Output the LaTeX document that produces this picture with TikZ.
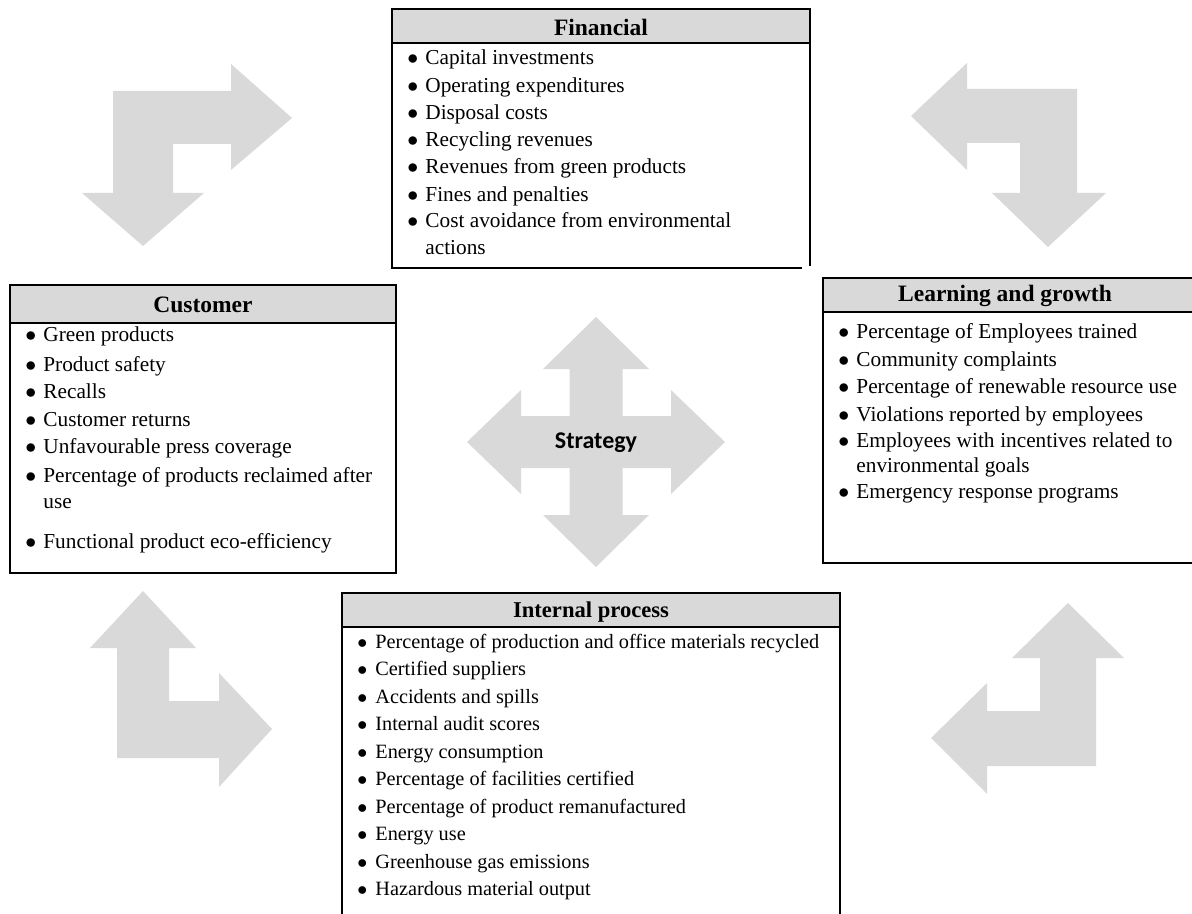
\documentclass[tikz,border=0pt]{standalone}
\usepackage{fontspec}
\setmainfont{Liberation Serif}
\newfontfamily\calib{Carlito}
\definecolor{shapegray}{HTML}{D9D9D9}
\newcommand\itb{\makebox[9pt][l]{$\bullet$}}
\begin{document}
\begin{tikzpicture}[x=0.5pt,y=-0.5pt,
  bord/.style={line width=1.2pt, line cap=rect},
  hdr/.style={fill=shapegray, draw=none},
  ttl/.style={inner sep=0pt, font=\fontsize{11.75pt}{14pt}\selectfont\bfseries},
  ttls/.style={inner sep=0pt, font=\fontsize{11.3pt}{14pt}\selectfont\bfseries},
  itm/.style={anchor=west, inner sep=0pt, font=\fontsize{10.65pt}{12pt}\selectfont, text height=0.7em, text depth=0.2em},
  itms/.style={itm, font=\fontsize{10.15pt}{12pt}\selectfont},
  bent/.style={fill=shapegray, draw=none}
]
\useasboundingbox (0,0) rectangle (1192,914);

% ---- bent arrows ----
\fill[bent] (113,91) -- (231,91) -- (231,64) -- (292,118) -- (231,170) -- (231,144) -- (173,144) -- (173,193) -- (204,193) -- (143,246) -- (82,193) -- (113,193) -- cycle;
\fill[bent] (911,116) -- (967,63) -- (967,89) -- (1077,89) -- (1077,193) -- (1106,193) -- (1048,247) -- (992,193) -- (1020,193) -- (1020,143) -- (967,143) -- (967,170) -- cycle;
\fill[bent] (143,591) -- (196,648) -- (169,648) -- (169,701) -- (219,701) -- (219,673) -- (272,729) -- (219,787) -- (219,758) -- (117,758) -- (117,648) -- (90,648) -- cycle;
\fill[bent] (1068,603) -- (1124,658) -- (1096,658) -- (1096,766) -- (987,766) -- (987,794) -- (931,738) -- (987,683) -- (987,711) -- (1040,711) -- (1040,658) -- (1012,658) -- cycle;

% ---- strategy four-way arrow ----
\fill[bent] (596,317) -- (649,369) -- (622.5,369) -- (622.5,416) -- (671,416) -- (671,390) -- (725,442) -- (671,494) -- (671,468) -- (622.5,468) -- (622.5,515) -- (649,515) -- (596,567) -- (543,515) -- (569.5,515) -- (569.5,468) -- (521,468) -- (521,494) -- (467,442) -- (521,390) -- (521,416) -- (569.5,416) -- (569.5,369) -- (543,369) -- cycle;
\node[inner sep=0pt, font=\calib\bfseries\fontsize{12pt}{14pt}\selectfont] (strategy) at (596,443) {Strategy};

% ---- Financial ----
\fill[hdr] (392,9) rectangle (810,43);
\draw[bord] (392,268) -- (392,9) -- (810,9) -- (810,265);
\draw[bord] (392,43) -- (810,43);
\draw[bord] (392,268) -- (801,268);
\node[ttl] (fin) at (601,27) {Financial};
\node[itm] (f1) at (407,60) {\itb Capital investments};
\node[itm] (f2) at (407,88) {\itb Operating expenditures};
\node[itm] (f3) at (407,115) {\itb Disposal costs};
\node[itm] (f4) at (407,142) {\itb Recycling revenues};
\node[itm] (f5) at (407,169) {\itb Revenues from green products};
\node[itm] (f6) at (407,197) {\itb Fines and penalties};
\node[itm] (f7) at (407,223) {\itb Cost avoidance from environmental};
\node[itm] (f8) at (425,250) {actions};

% ---- Customer ----
\fill[hdr] (10,285) rectangle (396,323);
\draw[bord] (10,285) rectangle (396,573);
\draw[bord] (10,323) -- (396,323);
\node[ttl] (cus) at (203,305) {Customer};
\node[itm] (c1) at (25,337) {\itb Green products};
\node[itm] (c2) at (25,366) {\itb Product safety};
\node[itm] (c3) at (25,393) {\itb Recalls};
\node[itm] (c4) at (25,421) {\itb Customer returns};
\node[itm] (c5) at (25,448) {\itb Unfavourable press coverage};
\node[itm] (c6) at (25,477) {\itb Percentage of products reclaimed after};
\node[itm] (c7) at (43,503) {use};
\node[itm] (c8) at (25,543) {\itb Functional product eco-efficiency};

% ---- Learning and growth ----
\fill[hdr] (823,278) rectangle (1192,312);
\draw[bord] (1192,278) -- (823,278) -- (823,563) -- (1192,563);
\draw[bord] (823,312) -- (1192,312);
\node[ttl] (lrn) at (1005,296) {Learning and growth};
\node[itm] (l1) at (838,333) {\itb Percentage of Employees trained};
\node[itm] (l2) at (838,361) {\itb Community complaints};
\node[itm] (l3) at (838,388) {\itb Percentage of renewable resource use};
\node[itm] (l4) at (838,416) {\itb Violations reported by employees};
\node[itm] (l5) at (838,442) {\itb \makebox[158pt][s]{Employees with incentives related to}};
\node[itm] (l6) at (856,467) {environmental goals};
\node[itm] (l7) at (838,493) {\itb Emergency response programs};

% ---- Internal process ----
\fill[hdr] (342,593) rectangle (840,627);
\draw[bord] (342,914) -- (342,593) -- (840,593) -- (840,914);
\draw[bord] (342,627) -- (840,627);
\node[ttls] (int) at (591,612) {Internal process};
\node[itms] (i1) at (357,643) {\itb Percentage of production and office materials recycled};
\node[itms] (i2) at (357,670) {\itb Certified suppliers};
\node[itms] (i3) at (357,698) {\itb Accidents and spills};
\node[itms] (i4) at (357,725) {\itb Internal audit scores};
\node[itms] (i5) at (357,753) {\itb Energy consumption};
\node[itms] (i6) at (357,780) {\itb Percentage of facilities certified};
\node[itms] (i7) at (357,808) {\itb Percentage of product remanufactured};
\node[itms] (i8) at (357,835) {\itb Energy use};
\node[itms] (i9) at (357,863) {\itb Greenhouse gas emissions};
\node[itms] (i10) at (357,890) {\itb Hazardous material output};
\end{tikzpicture}
\end{document}
